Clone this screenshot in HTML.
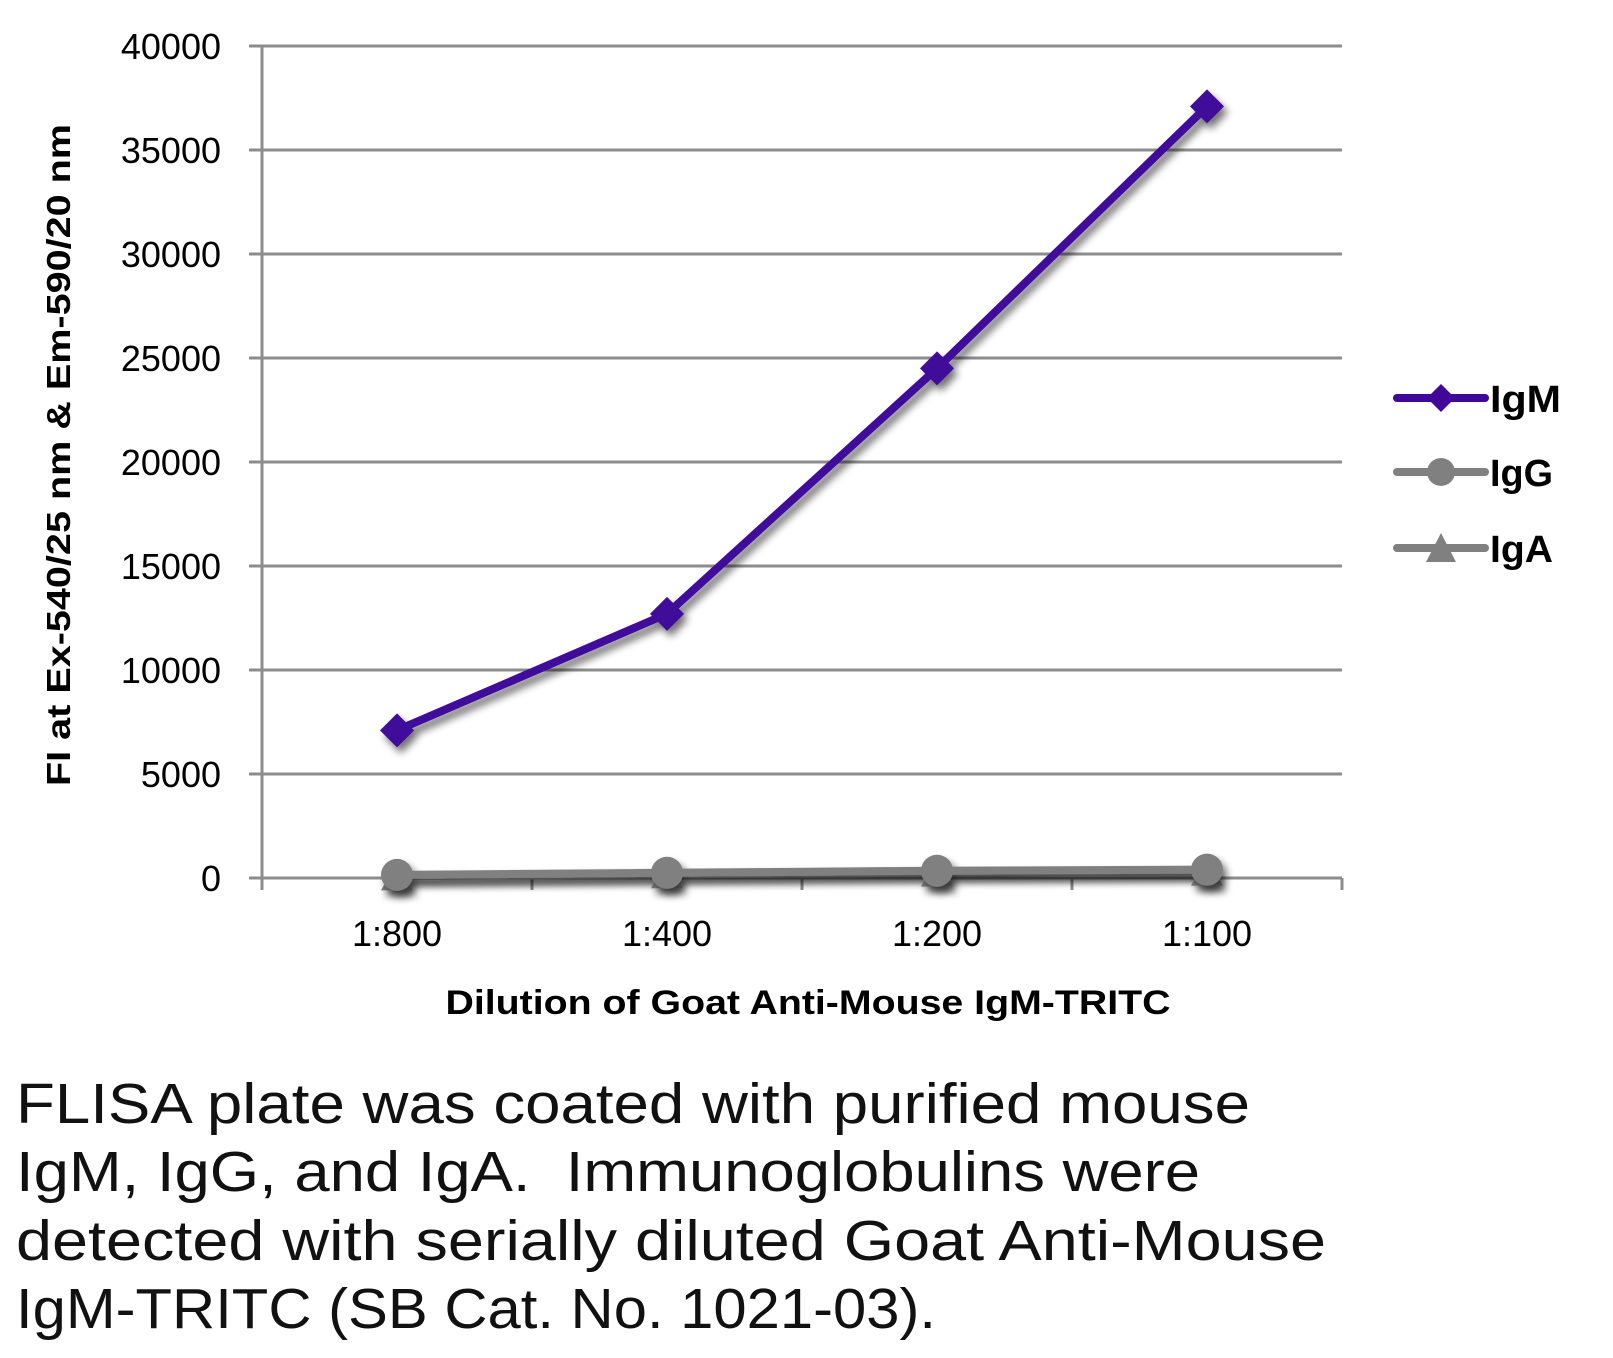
<!DOCTYPE html>
<html><head><meta charset="utf-8"><style>
html,body{margin:0;padding:0;background:#fff;}
svg{display:block;font-family:"Liberation Sans",sans-serif;}
</style></head><body>
<svg id="chart" width="1613" height="1358" viewBox="0 0 1613 1358">
<defs>
<filter id="sh" x="-50%" y="-50%" width="200%" height="200%"><feGaussianBlur in="SourceAlpha" stdDeviation="4"/><feOffset dx="4" dy="6" result="b"/><feComponentTransfer><feFuncA type="linear" slope="0.55"/></feComponentTransfer><feMerge><feMergeNode/><feMergeNode in="SourceGraphic"/></feMerge></filter>
</defs>
<g id="grid"></g>
<g id="axes"></g>
<g id="series"></g>
<text transform="translate(70,455) rotate(-90)" text-anchor="middle" font-size="33" font-weight="bold" textLength="662" lengthAdjust="spacingAndGlyphs">FI at Ex-540/25 nm &amp; Em-590/20 nm</text>
<text x="808" y="1014" text-anchor="middle" font-size="34" font-weight="bold" textLength="725" lengthAdjust="spacingAndGlyphs">Dilution of Goat Anti-Mouse IgM-TRITC</text>
<g>
<g>
<line x1="1397" y1="398" x2="1485" y2="398" stroke="#40079a" stroke-width="8" stroke-linecap="round"/>
<polygon points="1441,384 1455,398 1441,412 1427,398" fill="#40079a"/>
<text x="1490" y="412" font-size="38" font-weight="bold" textLength="71" lengthAdjust="spacingAndGlyphs">IgM</text></g>
<g>
<line x1="1397" y1="472" x2="1485" y2="472" stroke="#808080" stroke-width="8" stroke-linecap="round"/>
<circle cx="1441" cy="472" r="14" fill="#808080"/>
<text x="1490" y="486" font-size="38" font-weight="bold" textLength="63" lengthAdjust="spacingAndGlyphs">IgG</text></g>
<g>
<line x1="1397" y1="548" x2="1485" y2="548" stroke="#808080" stroke-width="8" stroke-linecap="round"/>
<polygon points="1441,533 1456,562 1426,562" fill="#808080"/>
<text x="1490" y="562" font-size="38" font-weight="bold" textLength="63" lengthAdjust="spacingAndGlyphs">IgA</text></g>
</g>
<g font-size="57" fill="#111">
<text x="16" y="1123" textLength="1234" lengthAdjust="spacingAndGlyphs">FLISA plate was coated with purified mouse</text>
<text x="16" y="1191" textLength="1184" lengthAdjust="spacingAndGlyphs" xml:space="preserve">IgM, IgG, and IgA.  Immunoglobulins were</text>
<text x="16" y="1260" textLength="1310" lengthAdjust="spacingAndGlyphs">detected with serially diluted Goat Anti-Mouse</text>
<text x="16" y="1328" textLength="920" lengthAdjust="spacingAndGlyphs">IgM-TRITC (SB Cat. No. 1021-03).</text>
</g>
</svg>
<script>
const categories = ["1:800","1:400","1:200","1:100"];
const igm = [7100, 12700, 24500, 37100];
const igg = [150, 250, 350, 400];
const iga = [80, 180, 260, 300];
const yTicks = [0,5000,10000,15000,20000,25000,30000,35000,40000];

const NS="http://www.w3.org/2000/svg";
const X0=262, X1=1342, Y0=878, YTOP=46, YMAX=40000;
const band=(X1-X0)/categories.length;
const xs=i=>X0+band*(i+0.5);
const ys=v=>Y0-(v/YMAX)*(Y0-YTOP);
function mk(tag,attrs,parent){const e=document.createElementNS(NS,tag);for(const k in attrs)e.setAttribute(k,attrs[k]);parent.appendChild(e);return e;}
const grid=document.getElementById('grid'), axes=document.getElementById('axes'), ser=document.getElementById('series');
yTicks.forEach(t=>{
  const l=mk('line',{x1:249,x2:X1,y1:ys(t),y2:ys(t),stroke:'#8c8c8c','stroke-width':3},grid);
  
  
  const tx=mk('text',{x:221,y:ys(t)+13,'text-anchor':'end','font-size':36},axes);
  tx.textContent=t;
  
  
});
mk('line',{x1:X0,x2:X0,y1:YTOP,y2:Y0,stroke:'#8c8c8c','stroke-width':3},axes);
for(let i=0;i<=categories.length;i++){
  mk('line',{x1:X0+band*i,x2:X0+band*i,y1:Y0,y2:Y0+12,stroke:'#8c8c8c','stroke-width':3},axes);
}
categories.forEach((c,i)=>{
  const tx=mk('text',{x:xs(i),y:946,'text-anchor':'middle','font-size':36},axes);
  tx.textContent=c;
  
  
});
function line(vals,color,name,marker){
  const g=mk('g',{filter:'url(#sh)'},ser);
  
  
  mk('polyline',{points:vals.map((v,i)=>xs(i)+','+ys(v)).join(' '),fill:'none',stroke:color,'stroke-width':8,'stroke-linejoin':'round'},g);
  vals.forEach((v,i)=>{
    const x=xs(i),y=ys(v);let m;
    if(marker==='d') m=mk('polygon',{points:`${x},${y-17} ${x+17},${y} ${x},${y+17} ${x-17},${y}`,fill:color},g);
    else if(marker==='c') m=mk('circle',{cx:x,cy:y,r:16,fill:color},g);
    else m=mk('polygon',{points:`${x},${y-16} ${x+16},${y+14} ${x-16},${y+14}`,fill:color},g);
    
    
  });
}
line(iga,'#808080','iga-series','t');
line(igg,'#808080','igg-series','c');
line(igm,'#40079a','igm-series','d');
</script>
</body></html>
